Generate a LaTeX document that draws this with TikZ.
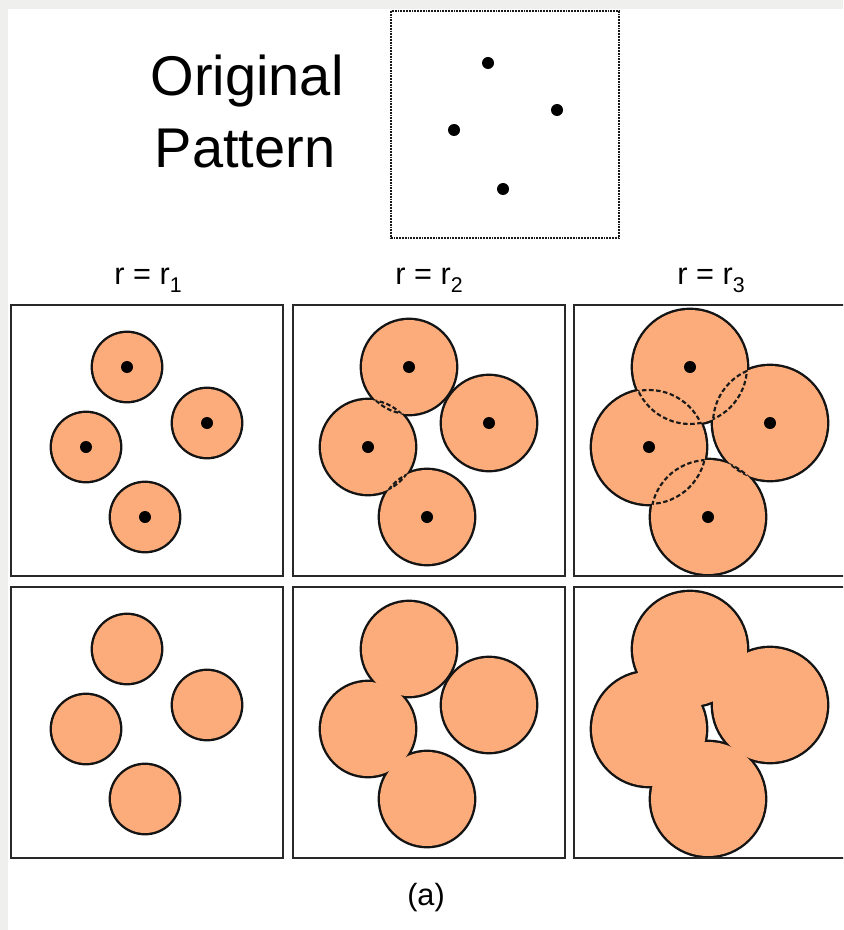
\documentclass[tikz,border=0pt]{standalone}
\usepackage{fontspec}
\setmainfont{Liberation Sans}
\definecolor{orfill}{RGB}{251,172,122}
\definecolor{margincol}{RGB}{239,239,237}
\definecolor{framecol}{RGB}{40,40,40}
\tikzset{
  panelframe/.style={draw=framecol, line width=1.7pt},
  outline/.style={draw=black!92, line width=3.6pt},
  dashline/.style={draw=black!90, line width=1.6pt, dash pattern=on 3.4pt off 1.9pt},
  dotbox/.style={draw=black!90, line width=1.8pt, dash pattern=on 1.3pt off 0.8pt},
  bigtext/.style={font=\fontsize{42}{42}\selectfont, inner sep=0pt, anchor=base},
  rlabel/.style={font=\fontsize{23}{24}\selectfont, inner sep=0pt, anchor=base},
}
\newcommand\subone[1]{\raisebox{-5.4pt}{\fontsize{16}{16}\selectfont #1}}
\newcommand\mypanel[5]{%
  \begin{scope}[shift={(#1,#2)}]
    \foreach \cx/\cy in {116/62,196/118,75/142,134/212}
      \draw[outline] (\cx,\cy) circle[radius=#3];
    \foreach \cx/\cy in {116/62,196/118,75/142,134/212}
      \fill[orfill] (\cx,\cy) circle[radius=#3];
    \ifnum#5=1
      \begin{scope}
        \clip (196,118) circle[radius=#3] (75,142) circle[radius=#3] (134,212) circle[radius=#3];
        \draw[dashline] (116,62) circle[radius=#3];
      \end{scope}
      \begin{scope}
        \clip (116,62) circle[radius=#3] (75,142) circle[radius=#3] (134,212) circle[radius=#3];
        \draw[dashline] (196,118) circle[radius=#3];
      \end{scope}
      \begin{scope}
        \clip (116,62) circle[radius=#3] (196,118) circle[radius=#3] (134,212) circle[radius=#3];
        \draw[dashline] (75,142) circle[radius=#3];
      \end{scope}
      \begin{scope}
        \clip (116,62) circle[radius=#3] (196,118) circle[radius=#3] (75,142) circle[radius=#3];
        \draw[dashline] (134,212) circle[radius=#3];
      \end{scope}
    \fi
    \ifnum#4=1
      \foreach \cx/\cy in {116/62,196/118,75/142,134/212}
        \fill[black] (\cx,\cy) circle[radius=6];
    \fi
    \draw[panelframe] (0,0) rectangle (272,271);
  \end{scope}}
\begin{document}
\begin{tikzpicture}[x=0.75pt,y=-0.75pt]
\useasboundingbox (0,0) rectangle (843,930);
\clip (0,0) rectangle (843,930);
\fill[margincol] (0,0) rectangle (843,930);
\fill[white] (8,9) rectangle (843,930);

% title
\node[bigtext] (t1) at (247,96) {Original};
\node[bigtext] (t2) at (245,168) {Pattern};

% original pattern
\draw[dotbox] (391,11) rectangle (619,238);
\foreach \px/\py in {488/63,557/110,454/130,503/189}
  \fill[black] (\px,\py) circle[radius=6];

% column labels
\node[rlabel] (l1) at (148,285) {r = r\subone{1}};
\node[rlabel] (l2) at (429,285) {r = r\subone{2}};
\node[rlabel] (l3) at (711,285) {r = r\subone{3}};

% panels
\mypanel{11}{305}{34}{1}{1}
\mypanel{293}{305}{47}{1}{1}
\mypanel{574}{305}{57}{1}{1}
\mypanel{11}{587}{34}{0}{0}
\mypanel{293}{587}{47}{0}{0}
\mypanel{574}{587}{57}{0}{0}

\node[rlabel] (cap) at (426,905) {(a)};
\end{tikzpicture}
\end{document}
